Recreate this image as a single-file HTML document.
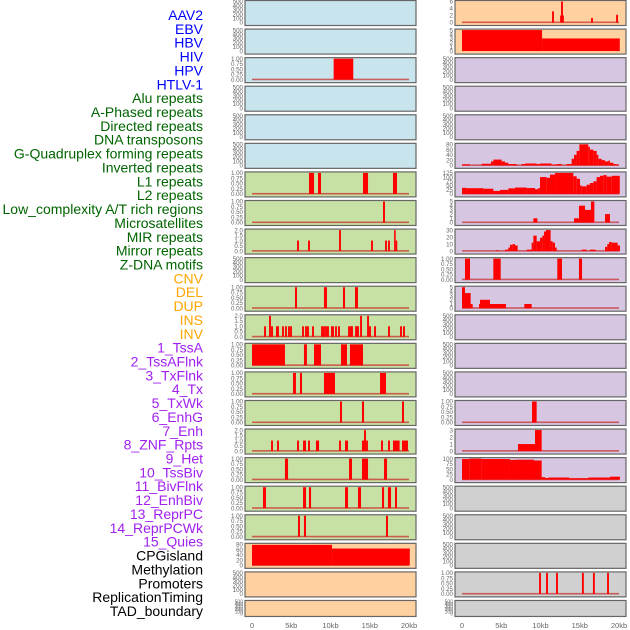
<!DOCTYPE html>
<html><head><meta charset="utf-8"><style>
html,body{margin:0;padding:0;background:#fff;}
svg{display:block;font-family:"Liberation Sans",sans-serif;}
</style></head><body>
<svg id="chart" width="630" height="630" viewBox="0 0 630 630" xmlns="http://www.w3.org/2000/svg">
<g id="labels"></g>
<g id="panels"></g>
<g id="xaxes"></g>
</svg>
<script>
// track labels
const trackLabels = ["AAV2","EBV","HBV","HIV","HPV","HTLV-1","Alu repeats","A-Phased repeats","Directed repeats","DNA transposons","G-Quadruplex forming repeats","Inverted repeats","L1 repeats","L2 repeats","Low_complexity A/T rich regions","Microsatellites","MIR repeats","Mirror repeats","Z-DNA motifs","CNV","DEL","DUP","INS","INV","1_TssA","2_TssAFlnk","3_TxFlnk","4_Tx","5_TxWk","6_EnhG","7_Enh","8_ZNF_Rpts","9_Het","10_TssBiv","11_BivFlnk","12_EnhBiv","13_ReprPC","14_ReprPCWk","15_Quies","CPGisland","Methylation","Promoters","ReplicationTiming","TAD_boundary"];
const labelGroups = [6,13,5,15,5];
const groupColors = ["#0000ff","#006400","#ffa500","#a020f0","#000000"];
const xTickValues = [0,5,10,15,20];
const xTickLabels = ["0","5kb","10kb","15kb","20kb"];

// panel data: [startKb, endKb, value]
const L2 = [[10.4,12.9,1]];
const L6 = [[7.26,7.9,1],[8.41,8.79,1],[14.14,14.78,1],[17.96,18.47,1]];
const L7 = [[16.69,16.94,1]];
const L8 = [[5.74,5.98,1],[7.14,7.38,1],[11.09,11.33,2],[15.17,15.41,1],[16.95,17.19,1],[17.33,17.57,1],[18.1,18.3,2],[18.3,18.46,1]];
const L10 = [[5.48,5.73,1],[9.17,9.55,1],[11.59,11.85,1],[13.12,13.5,1]];
const L11spikes = [1.66,2.29,2.55,3.18,3.31,3.95,4.33,4.71,4.97,6.5,6.88,7.13,7.77,8.92,9.17,9.43,9.68,10.19,10.32,10.7,11.08,12.36,12.61,12.74,13.25,13.38,13.5,13.89,14.78,15.03,15.67,17.45,18.98,19.36];
const L11values = [1,2,1,1,1,1,1,1,1,1,1,1,1,1,1,1,1,1,1,1,1,1,1,1,1,1,1,2,2,1,1,1,1,1];
const L12 = [[0,4.2,1],[6.62,7.0,1],[7.9,8.79,1],[11.34,12.1,1],[12.48,14.14,1]];
const L13 = [[5.22,5.6,1],[6.11,6.37,1],[9.17,10.57,1],[16.31,17.07,1]];
const L14 = [[11.21,11.46,1],[14.01,14.27,1],[19.11,19.36,1]];
const L15 = [[2.43,2.67,1],[3.19,3.43,1],[5.74,5.98,1],[6.5,6.88,1],[7.14,7.38,1],[8.15,8.54,1],[11.09,11.33,1],[11.85,12.23,1],[14.01,14.27,1],[14.27,14.52,2],[14.53,14.77,1],[16.44,16.68,1],[17.33,17.57,1],[17.96,18.6,1],[18.6,18.8,1],[19.11,19.87,1]];
const L16 = [[4.2,4.59,1],[12.36,12.74,1],[14.01,14.78,1],[16.82,17.2,1]];
const L17 = [[1.4,1.78,1],[6.5,6.88,1],[7.26,7.52,1],[11.85,12.23,1],[13.5,13.89,1],[16.56,16.82,1],[17.32,17.71,1],[18.22,18.47,1]];
const L18 = [[5.86,6.11,1],[6.62,6.88,1],[17.07,17.32,1]];
const L19 = [[0,10.2,78],[10.2,20.1,64]];
const R0 = [[11.47,11.71,3.2],[12.5,12.98,2],[12.62,12.86,6],[16.44,16.68,1.3],[19.63,19.87,2.2]];
const R1 = [[0,10.2,5],[10.2,20.1,3]];
const R5 = [[0,1.02,4],[2.5,3.69,6],[3.69,4.0,15],[4.0,5.05,22],[5.05,5.48,15],[5.48,5.9,10],[5.9,6.96,5],[7.6,8.03,5],[8.03,9.51,7],[9.51,9.94,5],[9.94,11.4,7],[11.4,12.06,3],[12.06,12.7,5],[13.33,13.97,5],[13.97,14.27,25],[14.27,14.6,40],[14.6,14.95,55],[14.95,16.09,80],[16.09,16.3,70],[16.3,16.73,60],[16.73,17.15,55],[17.15,17.37,40],[17.37,17.79,25],[17.79,18.2,20],[18.2,18.64,15],[18.64,18.85,18],[18.85,19.28,10],[19.28,19.7,5],[19.7,20,3]];
const R6 = [[0,0.59,36],[0.59,2.72,34],[2.72,3.99,31],[3.99,4.84,18],[4.84,5.9,24],[5.9,6.75,33],[6.75,8.24,38],[8.24,9.3,35],[9.3,9.72,28],[9.72,9.94,35],[9.94,10.79,100],[10.79,11.21,96],[11.21,11.85,115],[11.85,14.18,125],[14.18,14.61,105],[14.61,15.03,90],[15.03,15.24,50],[15.24,15.88,45],[15.88,16.3,55],[16.3,16.73,65],[16.73,17.15,75],[17.15,17.58,100],[17.58,18.0,108],[18.0,18.43,112],[18.43,19.07,103],[19.07,20.1,108]];
const R7 = [[9.09,9.6,1],[14.27,14.9,1],[14.9,15.67,4],[15.67,16.43,3],[16.43,16.86,5],[18.22,18.85,2]];
const R8 = [[4.33,4.63,1],[5.48,5.9,2],[5.9,6.11,5],[6.11,6.45,9],[6.45,6.75,10],[6.75,7.09,8],[8.24,8.87,2],[8.87,9.09,12],[9.09,9.51,22],[9.51,9.94,14],[9.94,10.23,19],[10.23,10.45,22],[10.45,10.7,28],[10.7,11.29,30],[11.29,11.55,14],[11.55,11.85,12],[11.85,12.06,5],[15.24,15.88,2],[16.3,17.03,2],[18.22,18.51,6],[18.51,18.73,10],[18.73,19.07,13],[19.07,19.83,12],[19.83,20.13,8]];
const R9 = [[0.38,1.02,1],[3.99,4.93,1],[12.14,12.74,1],[14.9,15.29,1]];
const R10 = [[0,0.38,5],[0.38,1.1,3.6],[1.1,1.36,1],[2.17,2.29,1],[2.29,3.57,2],[3.57,5.6,1],[7.94,8.87,1]];
const R14 = [[8.92,9.51,1]];
const R15 = [[7.13,9.3,1],[9.3,10.15,3]];
const R16 = [[0,0.93,98],[0.93,2.5,100],[2.5,6.11,98],[6.11,6.88,94],[6.88,9.17,95],[9.17,10.15,91],[10.15,10.57,12],[10.57,11.0,8],[11.0,13.67,10],[13.67,16.09,7],[16.09,18.85,10],[18.85,20.13,14]];
const R20 = [[9.82,10.06,1],[10.71,10.95,1],[11.98,12.22,1],[15.28,15.52,1],[16.68,16.92,1],[18.48,18.72,1]];

const T500 = [0,100,200,300,400,500];
const T1 = [0,0.25,0.5,0.75,1];
const T2 = [0,0.5,1,1.5,2];
</script>
<script>
const NS="http://www.w3.org/2000/svg";
function mk(tag, attrs, parent){const e=document.createElementNS(NS,tag);for(const k in attrs)e.setAttribute(k,attrs[k]);parent.appendChild(e);return e;}
const svg=document.getElementById('chart');
const gLab=document.getElementById('labels');
const gPan=document.getElementById('panels');
const gX=document.getElementById('xaxes');

let li=0;
labelGroups.forEach((n,gi)=>{for(let k=0;k<n;k++){const i=li++;
  const t=mk('text',{x:203,y:15+i*13.86+5,'text-anchor':'end','font-size':'14',fill:groupColors[gi]},gLab);
  t.textContent=trackLabels[i];
  
  
}});

const spikesL11 = L11spikes.map((c,i)=>[c-0.12,c+0.12,L11values[i]]);
const C={blue:"#c8e4ec",green:"#c7e0a4",orange:"#ffd1a0",purple:"#d6c6e2",grey:"#d0d0d0"};
function fmt(t,dec){return t.toFixed(dec);}
const leftSpec=[];
for(let r=0;r<22;r++){leftSpec.push({bg:r<6?C.blue:(r<19?C.green:C.orange),data:null,ticks:T500,dec:0});}
leftSpec[2]={bg:C.blue,data:L2,ticks:T1,dec:2};
leftSpec[6]={bg:C.green,data:L6,ticks:T1,dec:2};
leftSpec[7]={bg:C.green,data:L7,ticks:T1,dec:2};
leftSpec[8]={bg:C.green,data:L8,ticks:T2,dec:1};
leftSpec[10]={bg:C.green,data:L10,ticks:T1,dec:2};
leftSpec[11]={bg:C.green,data:spikesL11,ticks:T2,dec:1};
leftSpec[12]={bg:C.green,data:L12,ticks:T1,dec:2};
leftSpec[13]={bg:C.green,data:L13,ticks:T1,dec:2};
leftSpec[14]={bg:C.green,data:L14,ticks:T1,dec:2};
leftSpec[15]={bg:C.green,data:L15,ticks:T2,dec:1};
leftSpec[16]={bg:C.green,data:L16,ticks:T1,dec:2};
leftSpec[17]={bg:C.green,data:L17,ticks:T1,dec:2};
leftSpec[18]={bg:C.green,data:L18,ticks:T1,dec:2};
leftSpec[19]={bg:C.orange,data:L19,ticks:[0,20,40,60,80],dec:0};
const rightSpec=[];
for(let r=0;r<22;r++){rightSpec.push({bg:r<2?C.orange:(r<17?C.purple:C.grey),data:null,ticks:T500,dec:0});}
rightSpec[0]={bg:C.orange,data:R0,ticks:[0,2,4,6],dec:0};
rightSpec[1]={bg:C.orange,data:R1,ticks:[0,1,2,3,4,5],dec:0,nobase:true};
rightSpec[5]={bg:C.purple,data:R5,ticks:[0,20,40,60,80],dec:0};
rightSpec[6]={bg:C.purple,data:R6,ticks:[0,25,50,75,100,125],dec:0};
rightSpec[7]={bg:C.purple,data:R7,ticks:[0,1,2,3,4,5],dec:0};
rightSpec[8]={bg:C.purple,data:R8,ticks:[0,10,20,30],dec:0};
rightSpec[9]={bg:C.purple,data:R9,ticks:T1,dec:2};
rightSpec[10]={bg:C.purple,data:R10,ticks:[0,1,2,3,4,5],dec:0};
rightSpec[14]={bg:C.purple,data:R14,ticks:T1,dec:2};
rightSpec[15]={bg:C.purple,data:R15,ticks:[0,1,2,3],dec:0};
rightSpec[16]={bg:C.purple,data:R16,ticks:[0,25,50,75,100],dec:0};
rightSpec[20]={bg:C.grey,data:R20,ticks:T1,dec:2};

const cols=[{x0:245,x1:416,z:252,spec:leftSpec,name:'left'},{x0:455,x1:626,z:462,spec:rightSpec,name:'right'}];
const kbPx=157/20;
cols.forEach(col=>{
  const xs=kb=>col.z+kb*kbPx;
  col.spec.forEach((sp,r)=>{
    const top=r*28.57, H=(r===21)?16:25;
    const g=mk('g',{},gPan);
    
    
    const bg=mk('rect',{x:col.x0,y:top+0.5,width:col.x1-col.x0,height:H,fill:sp.bg},g);
    
    
    const maxV=sp.ticks[sp.ticks.length-1];
    const ys=v=>top+H-2.5-v/maxV*(H-4);
    sp.ticks.forEach(t=>{
      const tt=mk('text',{x:col.x0-2,y:ys(t)+2.2,'text-anchor':'end','font-size':(r===21?'5':'6.2'),fill:'#666'},g);
      tt.textContent=fmt(t,sp.dec);
      
      
    });
    if(sp.data){
      if(!sp.nobase){
        const bl=mk('rect',{x:xs(0),y:ys(0)-1,width:xs(20)-xs(0),height:1.6,fill:'#c83232',opacity:0.75},g);
        
        
      }
      sp.data.forEach(d=>{
        const x=xs(d[0]), w=Math.max(1.6,xs(d[1])-xs(d[0]));
        const b=mk('rect',{x:x,y:ys(d[2]),width:w,height:ys(0)-ys(d[2]),fill:'#ff0000'},g);
        
        
      });
    }
    const br=mk('rect',{x:col.x0,y:top+0.5,width:col.x1-col.x0,height:H,fill:'none',stroke:'#666',"stroke-width":1.2},g);
    
    
  });
  xTickValues.forEach((v,i)=>{
    const t=mk('text',{x:xs(v),y:628,'text-anchor':'middle','font-size':'7.5',fill:'#666'},gX);
    t.textContent=xTickLabels[i];
    
    
  });
});
</script>
</body></html>
